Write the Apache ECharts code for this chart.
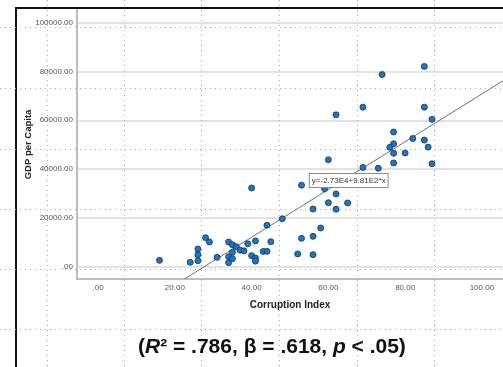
<!DOCTYPE html>
<html>
<head>
<meta charset="utf-8">
<script src="https://cdn.jsdelivr.net/npm/echarts@6/dist/echarts.min.js"></script>
<style>
  html, body { margin: 0; padding: 0; background: #fff; }
  #chart { width: 503px; height: 367px; }
</style>
</head>
<body>
<div id="chart"></div>
<script>
// Corruption index (x) vs GDP per capita (y)
const corruption = [16, 24, 26, 26, 26, 28, 29, 31, 34, 34, 34, 35, 35, 35, 36, 37, 38, 39, 40, 40,
  41, 41, 41, 43, 44, 44, 45, 48, 52, 53, 53, 56, 56, 56, 58, 59, 60, 60, 62, 62,
  62, 65, 69, 69, 73, 74, 76, 77, 77, 77, 77, 80, 82, 85, 85, 85, 86, 87, 87];
const gdp = [2460, 1640, 7140, 4800, 2340, 11780, 10010, 3690, 10010, 3980, 1520, 8900, 5740, 3160, 8080, 6650, 6360, 9230, 4390, 32170,
  10460, 3450, 2130, 6110, 6150, 16900, 10130, 19570, 5090, 11490, 33320, 23550, 12310, 4800, 15760, 31880, 43780, 26140, 62240, 29750,
  23470, 26050, 65400, 40620, 40290, 78780, 48910, 55190, 50340, 46450, 42470, 46570, 52520, 51860, 65400, 82140, 48990, 60400, 42140];

// fitted line ends and its label
const fitX = [22.5, 106];
const fitY = [-5200, 76700];
const fitLabel = 'y=-2.73E4+9.81E2*x';
const fitLabelAt = [65.3, 35300];

const xTicks = [0, 20, 40, 60, 80, 100];
const yTicks = [0, 20000, 40000, 60000, 80000, 100000];

// dotted page guides behind the chart (pixel positions)
const guideX = [47, 124, 201, 279, 357, 434];
const guideY = [27, 88, 149, 209, 269, 329];

const font = 'Liberation Sans, Arial, sans-serif';
const fmt = (v) => (v === 0 ? '.00' : v.toFixed(2));

const chart = echarts.init(document.getElementById('chart'), null, { renderer: 'canvas' });

const option = {
  backgroundColor: '#fff',
  animation: false,
  textStyle: { fontFamily: font },
  title: {
    left: 133,
    top: 332,
    text: '({i|R}² = .786, β = .618, {i|p} < .05)',
    textStyle: {
      fontFamily: font,
      fontSize: 21,
      fontWeight: 'bold',
      color: '#111',
      rich: {
        i: { fontFamily: font, fontSize: 21, fontWeight: 'bold', fontStyle: 'italic', color: '#111' }
      }
    }
  },
  graphic: [
    {
      type: 'rect',
      shape: { x: 16, y: 8, width: 600, height: 500 },
      style: { fill: 'none', stroke: '#111', lineWidth: 2 },
      silent: true
    }
  ],
  grid: [
    { left: 77, right: -9, top: 10, bottom: 88 },
    { left: 0, right: 0, top: 0, bottom: 0, z: 0 }
  ],
  xAxis: [
    {
      type: 'value',
      gridIndex: 0,
      min: -5.5,
      max: 105.5,
      name: 'Corruption Index',
      nameLocation: 'middle',
      nameGap: 21,
      nameMoveOverlap: false,
      nameTextStyle: { fontFamily: font, fontSize: 10, fontWeight: 'bold', color: '#222' },
      axisLine: { show: true, onZero: false, lineStyle: { color: '#bdbdbd', width: 2 } },
      axisTick: { show: false, customValues: xTicks },
      axisLabel: { customValues: xTicks, formatter: fmt, fontSize: 8, color: '#555', margin: 5, fontFamily: font },
      splitLine: { show: false }
    },
    {
      type: 'value',
      gridIndex: 1,
      min: 0,
      max: 503,
      axisLine: { show: false },
      axisLabel: { show: false },
      axisTick: { show: false, customValues: guideX },
      splitLine: { show: true, lineStyle: { color: '#a8a8a8', type: [1, 4], width: 1 } }
    }
  ],
  yAxis: [
    {
      type: 'value',
      gridIndex: 0,
      min: -5200,
      max: 105300,
      name: 'GDP per Capita',
      nameLocation: 'middle',
      nameGap: 44,
      nameMoveOverlap: false,
      nameTextStyle: { fontFamily: font, fontSize: 9.5, fontWeight: 'bold', color: '#222' },
      axisLine: { show: true, onZero: false, lineStyle: { color: '#bdbdbd', width: 2 } },
      axisTick: { show: false, customValues: yTicks },
      axisLabel: { customValues: yTicks, formatter: fmt, fontSize: 8, color: '#555', margin: 4, fontFamily: font },
      splitLine: { show: true, lineStyle: { color: '#d9d9d9', width: 1.5 } }
    },
    {
      type: 'value',
      gridIndex: 1,
      min: 0,
      max: 367,
      inverse: true,
      axisLine: { show: false },
      axisLabel: { show: false },
      axisTick: { show: false, customValues: guideY },
      splitLine: { show: true, lineStyle: { color: '#a8a8a8', type: [1, 4], width: 1 } }
    }
  ],
  series: [
    {
      type: 'line',
      xAxisIndex: 0,
      yAxisIndex: 0,
      data: fitX.map((x, i) => [x, fitY[i]]),
      showSymbol: false,
      silent: true,
      z: 2,
      lineStyle: { color: '#6e6e6e', width: 1 },
      markPoint: {
        symbol: 'rect',
        symbolSize: 0,
        silent: true,
        data: [{ coord: fitLabelAt }],
        label: {
          show: true,
          position: 'inside',
          formatter: fitLabel,
          fontFamily: font,
          fontSize: 8,
          color: '#333',
          backgroundColor: '#fff',
          borderColor: '#8c8c8c',
          borderWidth: 1,
          padding: [3, 2, 2, 2]
        }
      }
    },
    {
      type: 'scatter',
      xAxisIndex: 0,
      yAxisIndex: 0,
      z: 3,
      symbolSize: 6,
      data: corruption.map((x, i) => [x, gdp[i]]),
      itemStyle: { color: '#1f77c4', borderColor: '#12304d', borderWidth: 0.8, opacity: 1 }
    }
  ]
};

chart.setOption(option);
</script>
</body>
</html>
